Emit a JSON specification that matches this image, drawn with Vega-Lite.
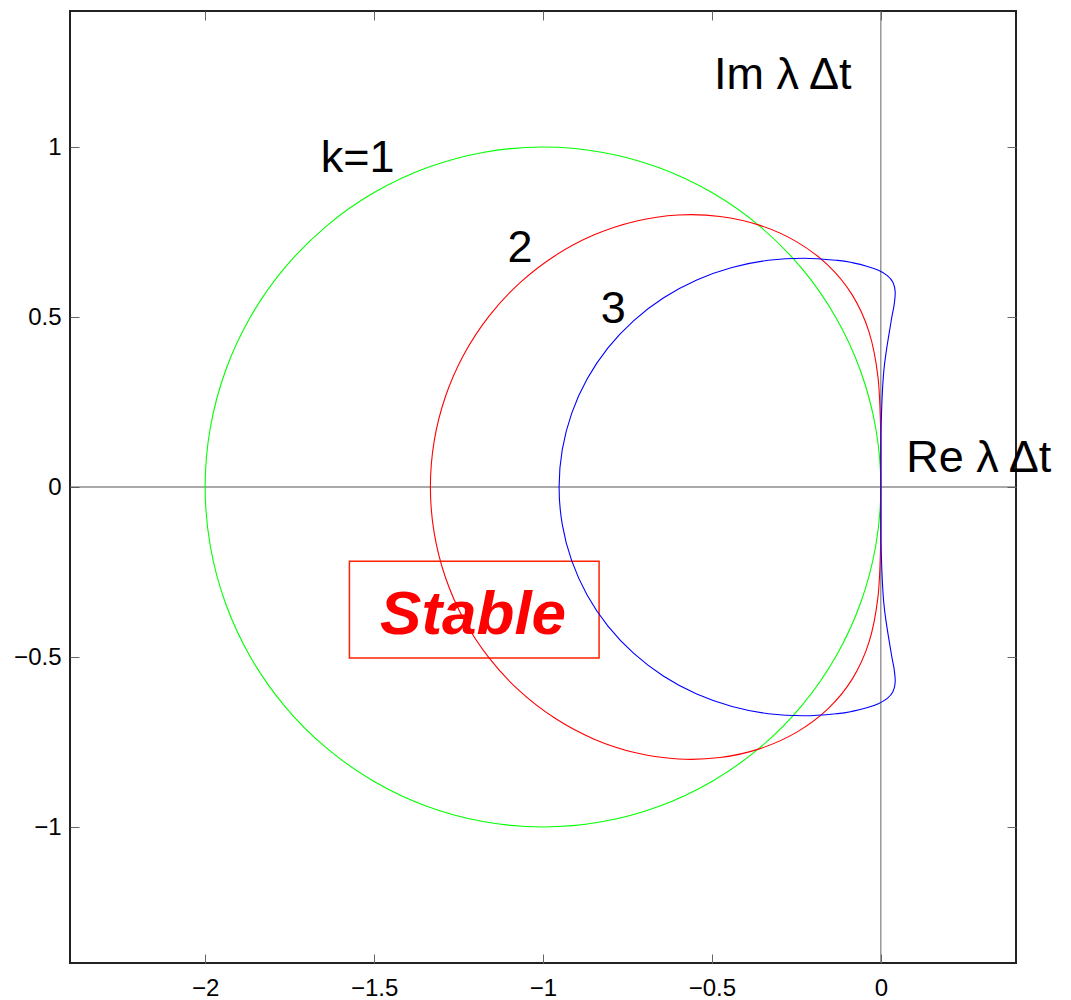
{
  "$schema": "https://vega.github.io/schema/vega-lite/v6.json",
  "width": 946,
  "height": 952,
  "autosize": {"type": "none"},
  "padding": {"left": 70, "top": 11, "right": 55, "bottom": 37},
  "background": "white",
  "config": {
    "view": {"stroke": "#222222", "strokeWidth": 2},
    "font": "Liberation Sans",
    "axis": {
      "grid": false,
      "domain": false,
      "tickColor": "#666666",
      "tickSize": -9,
      "tickWidth": 1,
      "labelFont": "Liberation Sans",
      "labelFontSize": 24,
      "labelColor": "#000000",
      "labelOverlap": false,
      "labelFlush": false,
      "labelBound": false
    }
  },
  "datasets": {
    "curves": [
      {"k": "1", "i": 0, "re": 0, "im": 0},
      {"k": "1", "i": 1, "re": -0.0152, "im": 0.1736},
      {"k": "1", "i": 2, "re": -0.0603, "im": 0.342},
      {"k": "1", "i": 3, "re": -0.134, "im": 0.5},
      {"k": "1", "i": 4, "re": -0.234, "im": 0.6428},
      {"k": "1", "i": 5, "re": -0.3572, "im": 0.766},
      {"k": "1", "i": 6, "re": -0.5, "im": 0.866},
      {"k": "1", "i": 7, "re": -0.658, "im": 0.9397},
      {"k": "1", "i": 8, "re": -0.8264, "im": 0.9848},
      {"k": "1", "i": 9, "re": -1, "im": 1},
      {"k": "1", "i": 10, "re": -1.1736, "im": 0.9848},
      {"k": "1", "i": 11, "re": -1.342, "im": 0.9397},
      {"k": "1", "i": 12, "re": -1.5, "im": 0.866},
      {"k": "1", "i": 13, "re": -1.6428, "im": 0.766},
      {"k": "1", "i": 14, "re": -1.766, "im": 0.6428},
      {"k": "1", "i": 15, "re": -1.866, "im": 0.5},
      {"k": "1", "i": 16, "re": -1.9397, "im": 0.342},
      {"k": "1", "i": 17, "re": -1.9848, "im": 0.1736},
      {"k": "1", "i": 18, "re": -2, "im": 0},
      {"k": "1", "i": 19, "re": -1.9848, "im": -0.1736},
      {"k": "1", "i": 20, "re": -1.9397, "im": -0.342},
      {"k": "1", "i": 21, "re": -1.866, "im": -0.5},
      {"k": "1", "i": 22, "re": -1.766, "im": -0.6428},
      {"k": "1", "i": 23, "re": -1.6428, "im": -0.766},
      {"k": "1", "i": 24, "re": -1.5, "im": -0.866},
      {"k": "1", "i": 25, "re": -1.342, "im": -0.9397},
      {"k": "1", "i": 26, "re": -1.1736, "im": -0.9848},
      {"k": "1", "i": 27, "re": -1, "im": -1},
      {"k": "1", "i": 28, "re": -0.8264, "im": -0.9848},
      {"k": "1", "i": 29, "re": -0.658, "im": -0.9397},
      {"k": "1", "i": 30, "re": -0.5, "im": -0.866},
      {"k": "1", "i": 31, "re": -0.3572, "im": -0.766},
      {"k": "1", "i": 32, "re": -0.234, "im": -0.6428},
      {"k": "1", "i": 33, "re": -0.134, "im": -0.5},
      {"k": "1", "i": 34, "re": -0.0603, "im": -0.342},
      {"k": "1", "i": 35, "re": -0.0152, "im": -0.1736},

      {"k": "2", "i": 0, "re": 0, "im": 0},
      {"k": "2", "i": 1, "re": -0.0007, "im": 0.1712},
      {"k": "2", "i": 2, "re": -0.0088, "im": 0.3254},
      {"k": "2", "i": 3, "re": -0.0351, "im": 0.4564},
      {"k": "2", "i": 4, "re": -0.0848, "im": 0.5651},
      {"k": "2", "i": 5, "re": -0.1576, "im": 0.6534},
      {"k": "2", "i": 6, "re": -0.25, "im": 0.7217},
      {"k": "2", "i": 7, "re": -0.3576, "im": 0.7695},
      {"k": "2", "i": 8, "re": -0.4758, "im": 0.7958},
      {"k": "2", "i": 9, "re": -0.6, "im": 0.8},
      {"k": "2", "i": 10, "re": -0.7257, "im": 0.7818},
      {"k": "2", "i": 11, "re": -0.8485, "im": 0.7417},
      {"k": "2", "i": 12, "re": -0.9643, "im": 0.6804},
      {"k": "2", "i": 13, "re": -1.0694, "im": 0.5998},
      {"k": "2", "i": 14, "re": -1.1603, "im": 0.502},
      {"k": "2", "i": 15, "re": -1.2342, "im": 0.3898},
      {"k": "2", "i": 16, "re": -1.2887, "im": 0.2663},
      {"k": "2", "i": 17, "re": -1.3221, "im": 0.1351},
      {"k": "2", "i": 18, "re": -1.3333, "im": 0},
      {"k": "2", "i": 19, "re": -1.3221, "im": -0.1351},
      {"k": "2", "i": 20, "re": -1.2887, "im": -0.2663},
      {"k": "2", "i": 21, "re": -1.2342, "im": -0.3898},
      {"k": "2", "i": 22, "re": -1.1603, "im": -0.502},
      {"k": "2", "i": 23, "re": -1.0694, "im": -0.5998},
      {"k": "2", "i": 24, "re": -0.9643, "im": -0.6804},
      {"k": "2", "i": 25, "re": -0.8485, "im": -0.7417},
      {"k": "2", "i": 26, "re": -0.7257, "im": -0.7818},
      {"k": "2", "i": 27, "re": -0.6, "im": -0.8},
      {"k": "2", "i": 28, "re": -0.4758, "im": -0.7958},
      {"k": "2", "i": 29, "re": -0.3576, "im": -0.7695},
      {"k": "2", "i": 30, "re": -0.25, "im": -0.7217},
      {"k": "2", "i": 31, "re": -0.1576, "im": -0.6534},
      {"k": "2", "i": 32, "re": -0.0848, "im": -0.5651},
      {"k": "2", "i": 33, "re": -0.0351, "im": -0.4564},
      {"k": "2", "i": 34, "re": -0.0088, "im": -0.3254},
      {"k": "2", "i": 35, "re": -0.0007, "im": -0.1712},

      {"k": "3", "i": 0, "re": 0, "im": 0},
      {"k": "3", "i": 1, "re": 0.0007, "im": 0.1743},
      {"k": "3", "i": 2, "re": 0.0089, "im": 0.3429},
      {"k": "3", "i": 3, "re": 0.0298, "im": 0.4839},
      {"k": "3", "i": 4, "re": 0.0393, "im": 0.5355},
      {"k": "3", "i": 5, "re": 0.0424, "im": 0.574},
      {"k": "3", "i": 6, "re": 0.036, "im": 0.6016},
      {"k": "3", "i": 7, "re": 0.0192, "im": 0.6219},
      {"k": "3", "i": 8, "re": -0.0073, "im": 0.6373},
      {"k": "3", "i": 9, "re": -0.0417, "im": 0.6495},
      {"k": "3", "i": 10, "re": -0.0823, "im": 0.6593},
      {"k": "3", "i": 11, "re": -0.1275, "im": 0.6665},
      {"k": "3", "i": 12, "re": -0.2273, "im": 0.673},
      {"k": "3", "i": 13, "re": -0.3333, "im": 0.6667},
      {"k": "3", "i": 14, "re": -0.4406, "im": 0.6457},
      {"k": "3", "i": 15, "re": -0.5449, "im": 0.609},
      {"k": "3", "i": 16, "re": -0.6429, "im": 0.5567},
      {"k": "3", "i": 17, "re": -0.7313, "im": 0.4896},
      {"k": "3", "i": 18, "re": -0.8077, "im": 0.4092},
      {"k": "3", "i": 19, "re": -0.8695, "im": 0.3174},
      {"k": "3", "i": 20, "re": -0.9151, "im": 0.2167},
      {"k": "3", "i": 21, "re": -0.943, "im": 0.1099},
      {"k": "3", "i": 22, "re": -0.9524, "im": 0},
      {"k": "3", "i": 23, "re": -0.943, "im": -0.1099},
      {"k": "3", "i": 24, "re": -0.9151, "im": -0.2167},
      {"k": "3", "i": 25, "re": -0.8695, "im": -0.3174},
      {"k": "3", "i": 26, "re": -0.8077, "im": -0.4092},
      {"k": "3", "i": 27, "re": -0.7313, "im": -0.4896},
      {"k": "3", "i": 28, "re": -0.6429, "im": -0.5567},
      {"k": "3", "i": 29, "re": -0.5449, "im": -0.609},
      {"k": "3", "i": 30, "re": -0.4406, "im": -0.6457},
      {"k": "3", "i": 31, "re": -0.3333, "im": -0.6667},
      {"k": "3", "i": 32, "re": -0.2273, "im": -0.673},
      {"k": "3", "i": 33, "re": -0.1275, "im": -0.6665},
      {"k": "3", "i": 34, "re": -0.0823, "im": -0.6593},
      {"k": "3", "i": 35, "re": -0.0417, "im": -0.6495},
      {"k": "3", "i": 36, "re": -0.0073, "im": -0.6373},
      {"k": "3", "i": 37, "re": 0.0192, "im": -0.6219},
      {"k": "3", "i": 38, "re": 0.036, "im": -0.6016},
      {"k": "3", "i": 39, "re": 0.0424, "im": -0.574},
      {"k": "3", "i": 40, "re": 0.0393, "im": -0.5355},
      {"k": "3", "i": 41, "re": 0.0298, "im": -0.4839},
      {"k": "3", "i": 42, "re": 0.0089, "im": -0.3429},
      {"k": "3", "i": 43, "re": 0.0007, "im": -0.1743}
    ],
    "labels": [
      {"t": "k=1", "x": -1.658, "y": 0.926},
      {"t": "2", "x": -1.105, "y": 0.662},
      {"t": "3", "x": -0.829, "y": 0.481},
      {"t": "Im λ Δt", "x": -0.494, "y": 1.172},
      {"t": "Re λ Δt", "x": 0.075, "y": 0.044}
    ],
    "stable": [{"t": "Stable", "x": -1.207, "y": -0.431}],
    "box": [{"x1": -1.573, "x2": -0.834, "y1": -0.2185, "y2": -0.503}],
    "zx": [{"re": 0}],
    "zy": [{"im": 0}]
  },
  "resolve": {"axis": {"x": "independent", "y": "independent"}},
  "layer": [
    {
      "data": {"name": "zx"},
      "mark": {"type": "rule", "stroke": "#666666", "strokeWidth": 1},
      "encoding": {
        "x": {"field": "re", "type": "quantitative", "scale": {"domain": [-2.4, 0.4], "nice": false, "zero": false},
              "axis": {"orient": "top", "values": [-2, -1.5, -1, -0.5, 0], "labels": false, "title": null}}
      }
    },
    {
      "data": {"name": "zy"},
      "mark": {"type": "rule", "stroke": "#555555", "strokeWidth": 1},
      "encoding": {
        "y": {"field": "im", "type": "quantitative", "scale": {"domain": [-1.4, 1.4], "nice": false, "zero": false},
              "axis": {"orient": "right", "values": [-1, -0.5, 0, 0.5, 1], "labels": false, "title": null}}
      }
    },
    {
      "data": {"name": "box"},
      "mark": {"type": "rect", "fillOpacity": 0, "stroke": "#ff2200", "strokeWidth": 1.5},
      "encoding": {
        "x": {"field": "x1", "type": "quantitative", "scale": {"domain": [-2.4, 0.4], "nice": false, "zero": false}, "axis": null},
        "x2": {"field": "x2"},
        "y": {"field": "y1", "type": "quantitative", "scale": {"domain": [-1.4, 1.4], "nice": false, "zero": false}, "axis": null},
        "y2": {"field": "y2"}
      }
    },
    {
      "data": {"name": "curves"},
      "mark": {"type": "line", "interpolate": "cardinal-closed", "strokeWidth": 1.1},
      "encoding": {
        "x": {"field": "re", "type": "quantitative", "scale": {"domain": [-2.4, 0.4], "nice": false, "zero": false},
              "axis": {"orient": "bottom", "values": [-2, -1.5, -1, -0.5, 0], "format": "~g", "labelPadding": 22, "title": null}},
        "y": {"field": "im", "type": "quantitative", "scale": {"domain": [-1.4, 1.4], "nice": false, "zero": false},
              "axis": {"orient": "left", "values": [-1, -0.5, 0, 0.5, 1], "format": "~g", "labelPadding": 18, "title": null}},
        "color": {"field": "k", "type": "nominal", "scale": {"domain": ["1", "2", "3"], "range": ["#00ff00", "#ff0000", "#0000ff"]}, "legend": null},
        "order": {"field": "i", "type": "quantitative"}
      }
    },
    {
      "data": {"name": "labels"},
      "mark": {"type": "text", "align": "left", "baseline": "alphabetic", "font": "Liberation Sans", "fontSize": 45, "color": "#000000"},
      "encoding": {
        "x": {"field": "x", "type": "quantitative", "scale": {"domain": [-2.4, 0.4], "nice": false, "zero": false}, "axis": null},
        "y": {"field": "y", "type": "quantitative", "scale": {"domain": [-1.4, 1.4], "nice": false, "zero": false}, "axis": null},
        "text": {"field": "t", "type": "nominal"}
      }
    },
    {
      "data": {"name": "stable"},
      "mark": {"type": "text", "align": "center", "baseline": "alphabetic", "font": "Liberation Sans", "fontSize": 62, "fontWeight": "bold", "fontStyle": "italic", "color": "#ff0000"},
      "encoding": {
        "x": {"field": "x", "type": "quantitative", "scale": {"domain": [-2.4, 0.4], "nice": false, "zero": false}, "axis": null},
        "y": {"field": "y", "type": "quantitative", "scale": {"domain": [-1.4, 1.4], "nice": false, "zero": false}, "axis": null},
        "text": {"field": "t", "type": "nominal"}
      }
    }
  ]
}
